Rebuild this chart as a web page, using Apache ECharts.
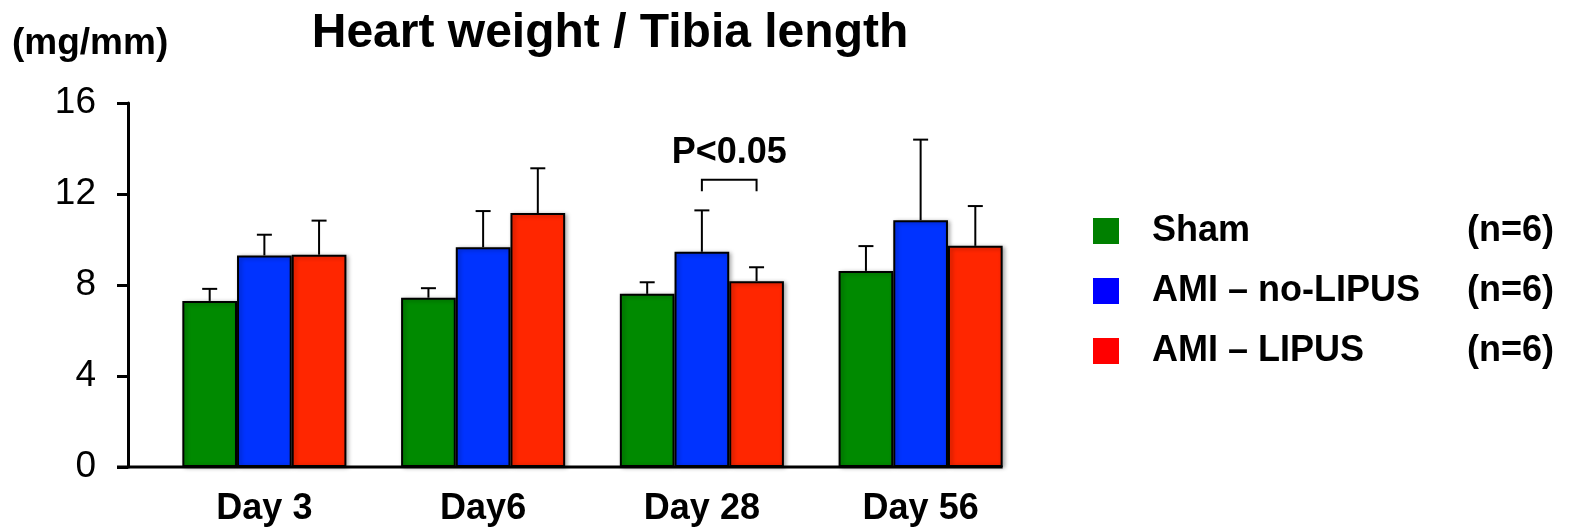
<!DOCTYPE html>
<html>
<head>
<meta charset="utf-8">
<script src="https://cdn.jsdelivr.net/npm/echarts@6/dist/echarts.min.js"></script>
<style>
  html, body { margin: 0; padding: 0; background: #fff; }
  #chart { width: 1569px; height: 532px; }
</style>
</head>
<body>
<div id="chart"></div>
<script>
// Heart weight / tibia length by time point (mean + SD)
const categories = ['Day 3', 'Day6', 'Day 28', 'Day 56'];
const groupNames = ['Sham', 'AMI \u2013 no-LIPUS', 'AMI \u2013 LIPUS'];
const groupN = [6, 6, 6];
const shamMean = [7.30, 7.44, 7.61, 8.62];
const shamSD = [0.53, 0.42, 0.51, 1.09];
const noLipusMean = [9.30, 9.66, 9.46, 10.85];
const noLipusSD = [0.91, 1.59, 1.82, 3.54];
const lipusMean = [9.33, 11.16, 8.17, 9.72];
const lipusSD = [1.50, 1.97, 0.61, 1.75];
const yTicks = [0, 4, 8, 12, 16];
// significance bracket: category, first group, second group, bracket level, leg end level
const sigCategory = ['Day 28'];
const sigFrom = [1];
const sigTo = [2];
const sigLevel = [12.63];
const sigLegEnd = [12.12];
const sigText = ['P<0.05'];
const sigTextLevel = [13.82];

const barColors = ['#008a00', '#0033ff', '#ff2600'];
const legendColors = ['#008000', '#0000ff', '#ff0000'];
const means = [shamMean, noLipusMean, lipusMean];
const sds = [shamSD, noLipusSD, lipusSD];

const FONT = "'Liberation Sans', Arial, Helvetica, sans-serif";
const GAP_FRACTION = 0.25;          // barCategoryGap
const GRID_LEFT = 155, GRID_RIGHT = 539, GRID_TOP = 103, GRID_BOTTOM = 65;
const Y_OFFSET = 27;                 // y axis sits left of the first band
const TICK_LEN = 11;

function barWidthPx(api) {
  return api.size([1, 0])[0] * (1 - GAP_FRACTION) / groupNames.length;
}

const barSeries = groupNames.map((name, g) => ({
  name: name,
  type: 'bar',
  barGap: '0%',
  barCategoryGap: (GAP_FRACTION * 100) + '%',
  data: means[g],
  itemStyle: {
    color: barColors[g],
    borderColor: '#000',
    borderWidth: 2,
    shadowColor: 'rgba(0,0,0,0.3)',
    shadowBlur: 4,
    shadowOffsetX: 2,
    shadowOffsetY: 1
  },
  z: 2
}));

const errorSeries = groupNames.map((name, g) => ({
  type: 'custom',
  name: name + ' SD',
  z: 4,
  silent: true,
  data: means[g].map((m, i) => [i, m, sds[g][i]]),
  renderItem: function (params, api) {
    const i = api.value(0), m = api.value(1), s = api.value(2);
    const bw = barWidthPx(api);
    const base = api.coord([i, m]);
    const top = api.coord([i, m + s]);
    const x = base[0] + (g - (groupNames.length - 1) / 2) * bw;
    const cap = 7.5;
    const style = { stroke: '#000', lineWidth: 2, fill: null };
    return {
      type: 'group',
      children: [
        { type: 'line', shape: { x1: x, y1: base[1], x2: x, y2: top[1] }, style: style },
        { type: 'line', shape: { x1: x - cap, y1: top[1], x2: x + cap, y2: top[1] }, style: style }
      ]
    };
  }
}));

const sigSeries = {
  type: 'custom',
  name: 'significance',
  z: 5,
  silent: true,
  data: sigCategory.map((c, k) => [categories.indexOf(c), sigFrom[k], sigTo[k], sigLevel[k], sigLegEnd[k], sigTextLevel[k]]),
  renderItem: function (params, api) {
    const k = params.dataIndex;
    const i = api.value(0);
    const bw = barWidthPx(api);
    const center = api.coord([i, api.value(3)]);
    const mid = (groupNames.length - 1) / 2;
    const xa = center[0] + (api.value(1) - mid) * bw;
    const xb = center[0] + (api.value(2) - mid) * bw;
    const yTop = center[1];
    const yLeg = api.coord([i, api.value(4)])[1];
    const yText = api.coord([i, api.value(5)])[1];
    return {
      type: 'group',
      children: [
        {
          type: 'polyline',
          shape: { points: [[xa, yLeg], [xa, yTop], [xb, yTop], [xb, yLeg]] },
          style: { stroke: '#000', lineWidth: 2, fill: null }
        },
        {
          type: 'text',
          style: {
            x: (xa + xb) / 2, y: yText, text: sigText[k],
            align: 'center', verticalAlign: 'middle',
            font: 'bold 36px ' + FONT, fill: '#000'
          }
        }
      ]
    };
  }
};

const chart = echarts.init(document.getElementById('chart'), null, { renderer: 'canvas' });

chart.setOption({
  animation: false,
  backgroundColor: '#fff',
  title: [
    {
      text: 'Heart weight / Tibia length',
      left: 605, top: 5, textAlign: 'center',
      textStyle: { fontFamily: FONT, fontWeight: 'bold', fontSize: 48, color: '#000' }
    },
    {
      text: '(mg/mm)',
      left: 7, top: 20,
      textStyle: { fontFamily: FONT, fontWeight: 'bold', fontSize: 37, color: '#000' }
    }
  ],
  legend: {
    orient: 'vertical',
    left: 1093,
    top: 213,
    padding: 0,
    itemWidth: 26,
    itemHeight: 26,
    itemGap: 24,
    icon: 'rect',
    selectedMode: false,
    itemStyle: { borderWidth: 0, shadowBlur: 0, shadowOffsetX: 0, shadowOffsetY: 0 },
    data: groupNames.map((n, g) => ({ name: n, itemStyle: { color: legendColors[g] } })),
    formatter: function (name) {
      const g = groupNames.indexOf(name);
      return '{a|' + name + '}{b|(n=' + groupN[g] + ')}';
    },
    textStyle: {
      rich: {
        a: { fontFamily: FONT, fontWeight: 'bold', fontSize: 36, color: '#000', width: 315, padding: [0, 0, 0, 28], lineHeight: 40 },
        b: { fontFamily: FONT, fontWeight: 'bold', fontSize: 36, color: '#000', width: 87, align: 'right', lineHeight: 40 }
      }
    }
  },
  grid: { left: GRID_LEFT, right: GRID_RIGHT, top: GRID_TOP, bottom: GRID_BOTTOM, containLabel: false },
  xAxis: {
    type: 'category',
    data: categories,
    axisLine: { show: false },
    axisTick: { show: false },
    axisLabel: {
      margin: 24,
      fontFamily: FONT, fontWeight: 'bold', fontSize: 36, color: '#000'
    }
  },
  yAxis: {
    type: 'value',
    min: yTicks[0],
    max: yTicks[yTicks.length - 1],
    interval: yTicks[1] - yTicks[0],
    offset: Y_OFFSET,
    splitLine: { show: false },
    axisLine: { show: true, lineStyle: { color: '#000', width: 3 } },
    axisTick: { show: true, length: TICK_LEN, lineStyle: { color: '#000', width: 3 } },
    axisLabel: {
      margin: 32,
      fontFamily: FONT, fontSize: 37, color: '#000'
    }
  },
  series: barSeries.concat(errorSeries, [sigSeries])
});

// Baseline: from the y-axis tick end to the right edge of the last group of bars
(function drawBaseline() {
  const y0 = chart.convertToPixel({ yAxisIndex: 0 }, 0);
  const lastCenter = chart.convertToPixel({ xAxisIndex: 0 }, categories[categories.length - 1]);
  const firstCenter = chart.convertToPixel({ xAxisIndex: 0 }, categories[0]);
  const secondCenter = chart.convertToPixel({ xAxisIndex: 0 }, categories[1]);
  const band = secondCenter - firstCenter;
  const halfGroup = band * (1 - GAP_FRACTION) / 2;
  const x0 = GRID_LEFT - Y_OFFSET - TICK_LEN;
  const x1 = lastCenter + halfGroup;
  chart.setOption({
    graphic: [{
      type: 'line',
      z: 10,
      shape: { x1: x0, y1: y0, x2: x1, y2: y0 },
      style: { stroke: '#000', lineWidth: 3 }
    }]
  });
})();
</script>
</body>
</html>
